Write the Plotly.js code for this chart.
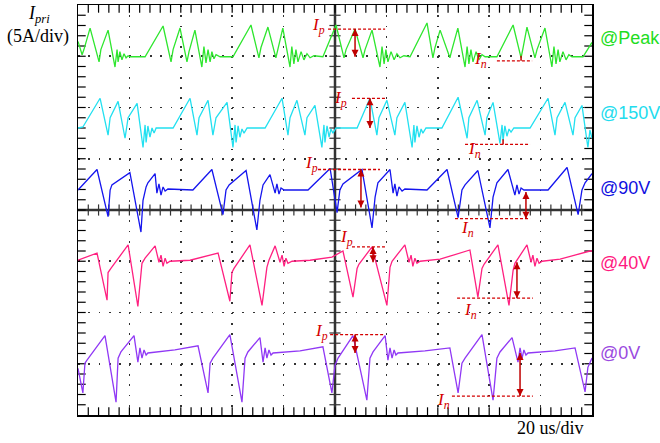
<!DOCTYPE html>
<html><head><meta charset="utf-8">
<script src="https://cdn.plot.ly/plotly-3.0.1.min.js"></script>
<style>html,body{margin:0;padding:0;background:#fff;}</style>
</head><body><div id="chart" style="width:660px;height:443px;"></div>
<script>
// Oscilloscope capture: time base 20 us/div, current 5 A/div.
// Each channel: time (us) and primary current (A) relative to the channel's ground marker.
const channelNames = ['@Peak', '@150V', '@90V', '@40V', '@0V'];

const tPeak = [0,1.6,2.3,4.7,8.2,8.9,11.7,14.4,15.2,15.6,16.3,17.1,17.9,18.7,19.5,20.2,26.1,
  33.1,36.2,37.0,39.7,42.4,43.2,45.5,48.2,49.0,49.8,50.6,51.4,52.1,52.9,53.7,55.3,60.3,
  67.3,70.4,71.2,73.9,77.0,77.8,79.7,82.5,83.2,84.0,84.8,85.6,86.8,87.9,89.1,90.3,91.8,95.3,
  100.4,103.5,104.3,107.8,110.9,111.7,114.4,117.5,118.3,119.1,119.8,120.6,121.8,123.0,124.1,125.3,126.8,129.2,
  135.8,138.1,138.9,140.9,144.7,145.5,147.8,150.6,151.4,152.1,152.9,153.7,154.9,156.0,157.2,158.4,163.0,
  169.3,172.4,173.2,174.7,177.8,178.6,181.7,184.4,185.2,186.0,186.8,187.5,188.7,189.9,191.0,192.2,196.5,200];
const iPeak = [1.5,0.2,0.7,2.8,-0.5,0.7,2.6,-1.0,0.7,-0.5,0.5,-0.3,0.3,-0.1,0.1,0,0,
  3.0,-0.5,0.7,2.8,-0.5,0.5,2.6,-1.0,1.0,-0.6,0.7,-0.5,0.5,-0.2,0.2,0,0,
  3.1,-0.1,0.9,2.9,-0.1,0.7,2.8,-1.0,1.0,-0.7,0.7,-0.5,0.5,-0.3,0.3,-0.1,0.1,0,
  3.1,-0.1,0.7,2.7,-0.1,0.7,2.6,-1.0,1.0,-0.7,0.7,-0.5,0.5,-0.3,0.3,-0.1,0.1,0,
  3.3,-0.1,0.9,2.6,-0.1,0.7,2.8,-1.0,1.0,-0.7,0.7,-0.5,0.5,-0.3,0.2,0,0,
  3.1,-0.1,0.9,2.9,-0.1,0.7,2.8,-1.0,1.0,-0.7,0.7,-0.5,0.5,-0.3,0.2,0,0,1.4];

const t150 = [0,1.9,8.6,11.7,12.5,15.6,18.3,19.5,23.0,25.3,26.1,26.5,27.2,28.0,28.8,29.6,30.4,37.0,
  43.6,46.3,47.1,50.6,52.5,53.7,58.0,60.3,61.1,61.5,62.3,63.0,63.8,64.6,65.8,72.8,
  79.4,81.7,82.5,85.2,88.3,89.1,92.2,94.9,95.7,96.1,96.9,97.7,98.4,99.2,100.4,108.6,
  113.6,116.3,117.1,120.2,123.3,124.1,127.2,130.0,130.7,131.1,131.9,132.7,133.5,134.2,135.4,141.6,
  147.9,151.4,152.1,155.3,158.4,159.1,161.5,164.2,165.0,165.4,166.1,166.9,167.7,168.5,169.6,175.9,
  182.9,185.6,186.4,189.5,192.6,193.4,196.1,198.4,199.2,200];
const i150 = [0,0.1,2.9,-0.7,1.0,2.6,-1.0,1.0,2.4,-1.9,0.3,-1.4,0.2,-0.9,0,-0.5,0,0,
  2.9,-0.7,1.0,2.7,-0.7,1.0,2.5,-1.9,0.3,-1.4,0.2,-0.9,-0.1,-0.5,0,0,
  2.9,-0.7,1.0,2.7,-0.7,1.0,2.2,-1.9,0.3,-1.4,0.2,-0.9,-0.1,-0.5,0,0,
  2.9,-0.7,1.0,2.7,-0.7,1.0,2.5,-1.9,0.3,-1.4,0.2,-0.9,-0.1,-0.5,0,0,
  3.0,-1.0,1.0,2.7,-0.7,1.0,2.5,-1.5,0.3,-1.2,0.2,-0.8,-0.1,-0.4,0,0,
  2.9,-0.7,1.0,2.5,-0.7,1.0,2.2,-1.9,-0.2,-1.0];

const t90 = [0,7.4,11.7,12.5,13.2,20.2,24.5,25.3,26.5,27.2,30.0,30.7,31.5,32.3,33.1,33.9,35.0,44.7,
  52.1,56.4,57.6,58.8,65.4,69.6,70.8,72.0,74.7,76.7,77.4,78.2,79.0,80.2,89.5,
  98.1,100.8,101.9,103.1,110.5,114.4,115.6,116.7,121.4,122.6,123.3,124.1,124.9,126.1,127.2,135.8,
  143.6,147.9,149.4,150.6,155.6,160.3,161.5,163.0,167.3,170.0,170.8,171.6,172.4,173.5,182.9,
  190.3,194.6,196.1,197.3,200];
const i90 = [0,2.0,-2.6,0,0.5,1.7,-4.1,-1.0,0.3,0.7,1.6,-0.3,0.6,-0.5,0.3,-0.1,0.1,0,
  2.0,-2.4,0,0.5,1.9,-3.9,-1.0,0.5,1.5,-0.3,0.6,-0.4,0.2,0,0,
  2.1,-2.2,0,0.6,2.0,-3.7,-0.7,0.7,2.0,-0.3,0.6,-0.6,0.3,-0.1,0.1,0,
  2.0,-2.7,0,0.5,1.9,-3.7,-0.7,0.7,2.0,-0.5,0.5,-0.4,0.2,0,0,
  2.2,-2.4,0,0.7,1.6];

const t40 = [0,7.4,11.3,11.7,12.8,19.5,23.3,24.9,26.1,30.0,31.5,32.3,33.1,33.9,34.6,35.8,43.6,
  54.5,59.1,59.9,60.7,66.9,71.6,73.5,74.3,76.7,78.6,79.4,80.2,80.9,81.7,83.3,90.3,
  98.8,103.1,107.0,108.6,109.3,114.4,120.2,121.4,122.2,127.2,128.8,129.6,130.3,131.1,131.9,133.1,140.9,
  152.5,155.6,157.2,158.0,163.4,167.7,169.3,170.0,174.7,176.3,177.0,177.8,178.6,179.4,180.6,187.6,199.2,200];
const i40 = [0.1,0.8,-3.8,-1.1,-0.7,1.6,-4.4,-0.2,0.3,1.5,-0.1,0.6,-0.5,0.3,-0.2,0,0.1,
  0.8,-3.9,-1.1,-0.7,1.6,-4.3,-0.6,0.1,1.5,-0.1,0.6,-0.5,0.3,-0.2,0,0.1,
  0.4,1.0,-3.5,-0.7,-0.3,1.4,-4.3,-0.6,0,1.6,-0.1,0.6,-0.5,0.3,-0.2,0,0.2,
  1.1,-3.5,-0.7,-0.3,1.6,-4.3,-0.9,-0.2,1.6,-0.1,0.6,-0.5,0.3,-0.2,0,0.2,1.0,1.0];

const t0 = [0,1.9,2.7,3.5,10.5,14.8,15.6,16.7,21.8,23.3,24.1,24.9,25.7,26.5,27.2,37.7,
  46.7,50.6,51.4,52.5,59.1,63.8,65.0,66.1,70.8,72.0,72.8,73.5,74.3,75.1,75.9,86.4,
  95.3,98.8,100.0,101.2,107.0,112.4,113.6,114.8,119.5,120.6,121.4,122.2,123.0,123.7,124.5,135.0,
  144.7,147.9,149.4,150.6,157.2,161.5,163.0,164.2,168.9,171.2,172.0,172.8,173.5,174.3,175.1,185.6,
  193.4,197.3,198.4,200];
const i0 = [-1.5,-3.9,-1.0,-0.7,1.7,-4.8,-0.5,0.1,1.7,-0.9,0.5,-0.5,0.3,-0.2,0,0.3,
  0.7,-3.9,-1.0,-0.5,1.8,-4.8,-0.5,0.1,1.5,-0.9,0.5,-0.5,0.3,-0.2,0,0.2,
  0.6,-3.9,-1.2,-0.5,1.7,-4.6,-0.5,0.1,1.7,-0.7,0.5,-0.5,0.3,-0.2,0,0.2,
  0.5,-3.9,-1.0,-0.5,1.8,-4.6,-0.5,0.1,1.5,-0.9,0.5,-0.5,0.3,-0.2,0,0.2,
  0.5,-3.8,-1.4,-0.5];

// Measured peak (Ip) and negative (In) levels, in A relative to each channel's ground
const ipLevel = [2.7, 2.9, 2.0, 1.4, 1.8];
const ipSpanStart = [97.3, 106.6, 93.4, 106.6, 98.1];
const ipSpanEnd = [119.5, 120.2, 117.5, 119.5, 119.5];
const ipArrowT = [107.8, 113.6, 110.1, 114.8, 107.8];
const ipArrowTo = [0, 0, -1.7, -0.1, 0];
const inLevel = [-0.4, -1.6, -2.8, -3.6, -4.2];
const inSpanStart = [163.0, 150.6, 146.7, 147.5, 145.5];
const inSpanEnd = [176.7, 175.9, 175.9, 177.0, 177.0];
const inArrowT = [172.4, 165.4, 174.3, 170.8, 172.0];
const inArrowFrom = [0.1, -1.1, -0.2, -0.1, 0];

// ---- presentation settings ----
const channelOffsetDiv = [2.99, 1.6, 0.39, -1.0, -2.79];
const ampsPerDiv = 5;
const traceColors = ['#2ee62e', '#22e0f0', '#1515ee', '#ff2080', '#9038f5'];
const labelColors = ['#22dd22', '#22dcee', '#1010e0', '#ff1a80', '#9a4ae0'];
const markerColors = ['#22dd22', '#33ddee', '#0000ff', '#ff1a75', '#6633a0'];
const labelYdiv = [3.36, 1.89, 0.43, -1.03, -2.79];
const ipLabelPos = [[93.4, 3.0], [102.3, 2.8], [90.7, 2.5], [104.3, 2.3], [94.9, 2.0]];
const inLabelPos = [[156.8, -0.3], [154.1, -2.1], [151.7, -3.8], [152.9, -4.9], [142.4, -4.7]];
const series = [[tPeak, iPeak], [t150, i150], [t90, i90], [t40, i40], [t0, i0]];
const RED = '#d40000';
const ARROW = '#c00000';

const toY = (ch, a) => channelOffsetDiv[ch] + a / ampsPerDiv;
const skip = {hoverinfo: 'skip', showlegend: false};

const data = [];
// scope graticule ticks (minor divisions: 4 us horizontally, 0.2 div vertically)
const xt = [], yt = [];
for (let k = 1; k < 50; k++) xt.push(k * 4);
for (let k = -19; k < 20; k++) yt.push(k * 0.2);
const tickMarker = (sym, size, color) => ({symbol: sym, size: size, color: color, line: {color: color, width: 1.2}});
data.push(Object.assign({type: 'scatter', mode: 'markers', x: xt.concat(xt), y: xt.map(() => 4).concat(xt.map(() => -4)),
  marker: tickMarker('line-ns-open', 11, '#000')}, skip));
data.push(Object.assign({type: 'scatter', mode: 'markers', x: yt.map(() => 0).concat(yt.map(() => 200)), y: yt.concat(yt),
  marker: tickMarker('line-ew-open', 11, '#000')}, skip));
data.push(Object.assign({type: 'scatter', mode: 'markers', x: xt, y: xt.map(() => 0),
  marker: tickMarker('line-ns-open', 8, '#333')}, skip));
data.push(Object.assign({type: 'scatter', mode: 'markers', x: yt.map(() => 100), y: yt,
  marker: tickMarker('line-ew-open', 8, '#333')}, skip));

series.forEach(([t, a], ch) => {
  data.push(Object.assign({type: 'scatter', mode: 'lines', x: t, y: a.map(v => toY(ch, v)),
    line: {color: traceColors[ch], width: 1.3}}, skip));
});
// channel ground markers
data.push(Object.assign({type: 'scatter', mode: 'markers', x: channelOffsetDiv.map(() => -2), y: channelOffsetDiv.slice(),
  marker: {symbol: 'triangle-right', size: 13, color: markerColors}, cliponaxis: false}, skip));
// Ip / In dashed reference lines and measurement arrows
for (let ch = 0; ch < 5; ch++) {
  const yp = toY(ch, ipLevel[ch]), yn = toY(ch, inLevel[ch]);
  data.push(Object.assign({type: 'scatter', mode: 'lines', x: [ipSpanStart[ch], ipSpanEnd[ch]], y: [yp, yp],
    line: {color: RED, width: 1.3, dash: '3px,2px'}}, skip));
  data.push(Object.assign({type: 'scatter', mode: 'lines', x: [inSpanStart[ch], inSpanEnd[ch]], y: [yn, yn],
    line: {color: RED, width: 1.3, dash: '3px,2px'}}, skip));
  const ya = toY(ch, ipArrowTo[ch]);
  data.push(Object.assign({type: 'scatter', mode: 'lines+markers', x: [ipArrowT[ch], ipArrowT[ch]], y: [yp, ya],
    line: {color: ARROW, width: 1.5}, marker: {symbol: ['arrow-up', 'arrow-down'], size: 7, color: ARROW}}, skip));
  const yb = toY(ch, inArrowFrom[ch]);
  const small = Math.abs(inArrowFrom[ch] - inLevel[ch]) < 0.8;
  data.push(Object.assign({type: 'scatter', mode: small ? 'lines' : 'lines+markers', x: [inArrowT[ch], inArrowT[ch]], y: [yb, yn],
    line: {color: ARROW, width: 1.5}, marker: {symbol: ['arrow-up', 'arrow-down'], size: 7, color: ARROW}}, skip));
}

const annotations = [];
const serif = 'Liberation Serif, Times New Roman, serif';
for (let ch = 0; ch < 5; ch++) {
  annotations.push({xref: 'x', yref: 'y', x: ipLabelPos[ch][0], y: toY(ch, ipLabelPos[ch][1]), xanchor: 'center', yanchor: 'middle',
    showarrow: false, text: '<i>I<sub>p</sub></i>', font: {family: serif, size: 17, color: RED}});
  annotations.push({xref: 'x', yref: 'y', x: inLabelPos[ch][0], y: toY(ch, inLabelPos[ch][1]), xanchor: 'center', yanchor: 'middle',
    showarrow: false, text: '<i>I<sub>n</sub></i>', font: {family: serif, size: 17, color: RED}});
  annotations.push({xref: 'paper', yref: 'y', x: 1.012, xanchor: 'left', yanchor: 'middle', y: labelYdiv[ch], showarrow: false,
    text: channelNames[ch], font: {family: 'Liberation Sans, Arial, sans-serif', size: 18, color: labelColors[ch]}});
}
annotations.push({xref: 'paper', yref: 'paper', x: -0.076, y: 0.978, xanchor: 'center', yanchor: 'middle', showarrow: false,
  text: '<i>I<sub>pri</sub></i>', font: {family: serif, size: 18, color: '#000'}});
annotations.push({xref: 'paper', yref: 'paper', x: -0.077, y: 0.922, xanchor: 'center', yanchor: 'middle', showarrow: false,
  text: '(5A/div)', font: {family: serif, size: 18, color: '#000'}});
annotations.push({xref: 'paper', yref: 'paper', x: 0.92, y: -0.032, xanchor: 'center', yanchor: 'middle', showarrow: false,
  text: '20 us/div', font: {family: serif, size: 18, color: '#000'}});

const frameAxis = (range, dtick, dash) => ({
  range: range, tick0: 0, dtick: dtick, ticks: '', mirror: true, showline: true, linecolor: '#000', linewidth: 1.5,
  showgrid: true, gridcolor: '#333', gridwidth: 1.6, griddash: dash, zeroline: false, showticklabels: false,
  fixedrange: true
});

const layout = {
  width: 660, height: 443,
  margin: {l: 78, r: 68, t: 5, b: 28, pad: 0},
  paper_bgcolor: '#fff', plot_bgcolor: '#fff', showlegend: false,
  xaxis: frameAxis([0, 200], 20, '1.8px,8.45px'),
  yaxis: frameAxis([-4, 4], 1, '1.8px,8.48px'),
  shapes: [
    {type: 'line', xref: 'x', yref: 'y', x0: 100, x1: 100, y0: -4, y1: 4, line: {color: '#333', width: 2.5}, layer: 'below'},
    {type: 'line', xref: 'x', yref: 'y', x0: 0, x1: 200, y0: 0, y1: 0, line: {color: '#333', width: 2.5}, layer: 'below'}
  ],
  annotations: annotations
};

Plotly.newPlot('chart', data, layout, {staticPlot: true, displayModeBar: false});
</script>
</body></html>
